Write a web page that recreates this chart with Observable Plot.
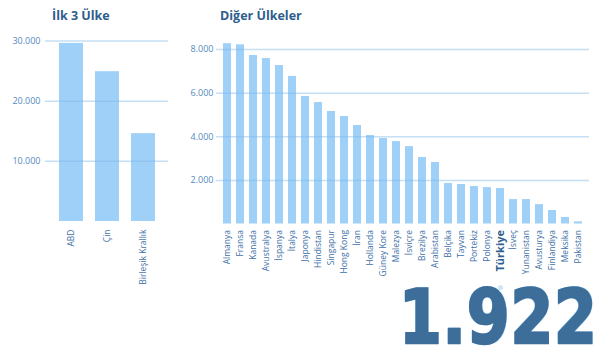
<!DOCTYPE html>
<html>
<head>
<meta charset="utf-8">
<script src="https://cdn.jsdelivr.net/npm/d3@7"></script>
<script src="https://cdn.jsdelivr.net/npm/@observablehq/plot@0.6"></script>
<style>
  html, body { margin: 0; padding: 0; background: #fff; }
  #wrap { position: relative; width: 609px; height: 364px; overflow: hidden; font-family: "Open Sans", sans-serif; }
  .title { position: absolute; top: 7px; font-family: "Open Sans", sans-serif; font-weight: 700; font-size: 12.5px; color: #2d5d8c; white-space: nowrap; }
  #left { position: absolute; left: 0; top: 0; }
  #right { position: absolute; left: 180px; top: 0; }
  #headline { position: absolute; left: 399px; top: 279.5px; font-family: "DejaVu Sans", sans-serif; font-weight: 700; font-size: 75px; line-height: 75px; color: #3d6e99; -webkit-text-stroke: 2.4px #3d6e99; text-shadow: 1px 0 0 #a9d3f4, -1px 0 0 #a9d3f4, 0 1px 0 #a9d3f4, 0 -1px 0 #a9d3f4, 1.4px 1.4px 0 #a9d3f4, -1.4px -1.4px 0 #a9d3f4, 1.4px -1.4px 0 #a9d3f4, -1.4px 1.4px 0 #a9d3f4; transform: scaleX(0.82); transform-origin: left top; white-space: nowrap; letter-spacing: 1px; }
  svg { overflow: visible; }
</style>
</head>
<body>
<div id="wrap">
  <div class="title" id="t1" style="left:52px">İlk 3 Ülke</div>
  <div class="title" id="t2" style="left:220px">Diğer Ülkeler</div>
  <div id="left"></div>
  <div id="right"></div>
  <div id="headline"></div>
</div>
<script>
const topCountries = ["ABD", "Çin", "Birleşik Krallık"];
const topValues = [29600, 24900, 14600];

const otherCountries = ["Almanya", "Fransa", "Kanada", "Avustralya", "İspanya", "İtalya", "Japonya", "Hindistan", "Singapur", "Hong Kong", "İran", "Hollanda", "Güney Kore", "Malezya", "İsviçre", "Brezilya", "Arabistan", "Belçika", "Tayvan", "Portekiz", "Polonya", "Türkiye", "İsveç", "Yunanistan", "Avusturya", "Finlandiya", "Meksika", "Pakistan"];
const otherValues = [8270, 8220, 7730, 7590, 7270, 6770, 5850, 5570, 5160, 4930, 4520, 4060, 3920, 3780, 3550, 3050, 2820, 1860, 1810, 1720, 1670, 1630, 1120, 1120, 890, 620, 300, 100];

const leftTicks = [10000, 20000, 30000];
const rightTicks = [2000, 4000, 6000, 8000];
const highlight = "Türkiye";
const headline = "1.922";

const trLocale = d3.formatLocale({decimal: ",", thousands: ".", grouping: [3], currency: ["", ""]});
const fmt = trLocale.format(",d");

const barColor = "#9fd0f7";
const gridColor = "#7fb8e6";
const tickColor = "#5489c0";
const labelColor = "#3d70a8";
const boldColor = "#2f5f8f";

const topData = topCountries.map((c, i) => ({country: c, value: topValues[i]}));
const otherData = otherCountries.map((c, i) => ({country: c, value: otherValues[i]}));

const left = Plot.plot({
  width: 175, height: 290,
  marginTop: 40.5, marginBottom: 69, marginLeft: 45, marginRight: 7,
  style: {fontFamily: "Open Sans, sans-serif", background: "transparent", overflow: "visible"},
  x: {domain: topCountries, paddingInner: 0.34, paddingOuter: 0.36, axis: null},
  y: {domain: [0, 30000], axis: null},
  marks: [
    Plot.barY(topData, {x: "country", y: "value", fill: barColor}),
    Plot.gridY(leftTicks, {stroke: gridColor, strokeOpacity: 0.45, strokeWidth: 1.5}),
    Plot.axisY(leftTicks, {label: null, tickSize: 0, tickPadding: 5, tickFormat: fmt, fill: tickColor, fontSize: 9}),
    Plot.axisX({label: null, tickRotate: -90, tickSize: 0, tickPadding: 8, fill: labelColor, fontSize: 8.5})
  ]
});
document.getElementById("left").appendChild(left);

const right = Plot.plot({
  width: 429, height: 290,
  marginTop: 49.1, marginBottom: 66.5, marginLeft: 36, marginRight: 20,
  style: {fontFamily: "Open Sans, sans-serif", background: "transparent", overflow: "visible"},
  x: {domain: otherCountries, paddingInner: 0.39, paddingOuter: 0.42, axis: null},
  y: {domain: [0, 8000], axis: null},
  marks: [
    Plot.barY(otherData, {x: "country", y: "value", fill: barColor}),
    Plot.gridY(rightTicks, {stroke: gridColor, strokeOpacity: 0.45, strokeWidth: 1.5}),
    Plot.axisY(rightTicks, {label: null, tickSize: 0, tickPadding: 3, tickFormat: fmt, fill: tickColor, fontSize: 9}),
    Plot.axisX({label: null, tickRotate: -90, tickSize: 0, tickPadding: 6, fill: labelColor, fontSize: 8.5,
      tickFormat: d => d === highlight ? "" : d}),
    Plot.axisX([highlight], {label: null, tickRotate: -90, tickSize: 0, tickPadding: 6, fill: boldColor, fontSize: 11, fontWeight: "bold"}),
    Plot.dot([highlight], {x: d => d, y: 0, dy: 63.5, r: 2.6, fill: "#cfe6fa"}),
    Plot.dot([highlight], {x: d => d, y: 0, dy: 72.5, r: 2.6, fill: "#cfe6fa"})
  ]
});
document.getElementById("right").appendChild(right);

document.getElementById("headline").textContent = headline;
</script>
</body>
</html>
